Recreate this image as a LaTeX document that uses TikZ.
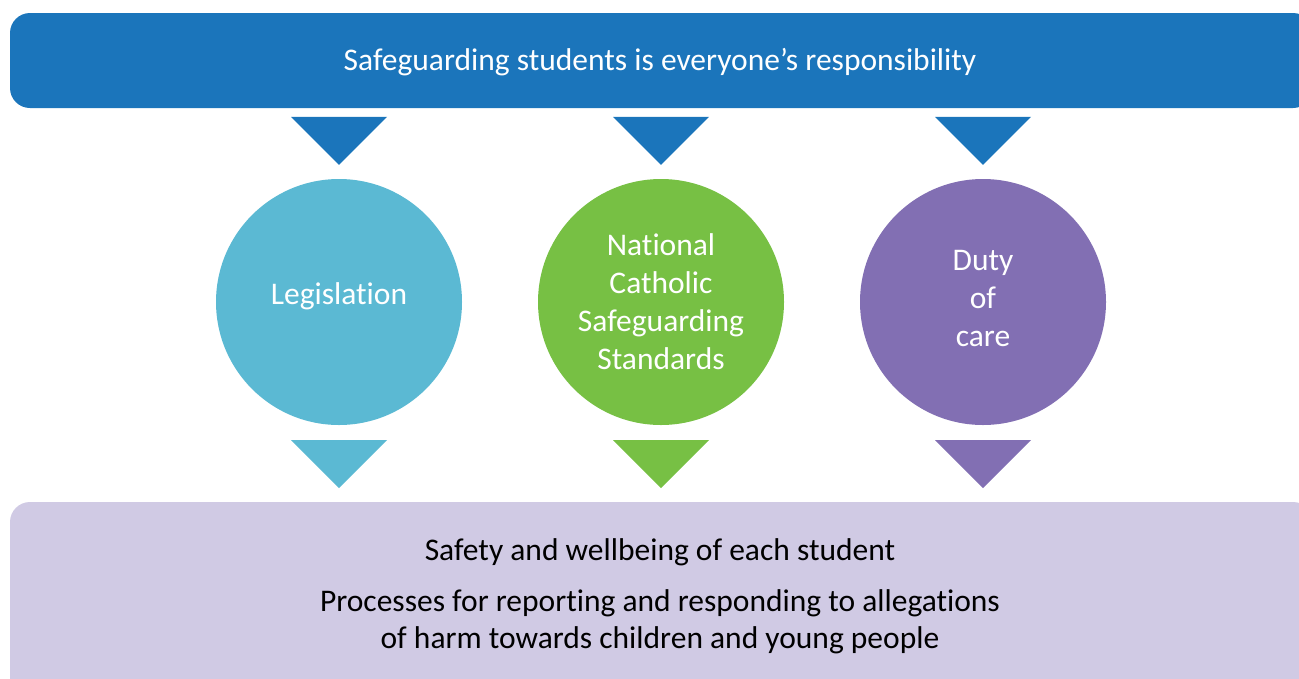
\documentclass[tikz,border=0pt]{standalone}
\usepackage{fontspec}
\setmainfont{Carlito}[Ligatures=NoCommon]
\usetikzlibrary{positioning}
\usetikzlibrary{calc}
\definecolor{sgblue}{HTML}{1B75BB}
\definecolor{sglight}{HTML}{5BB9D3}
\definecolor{sggreen}{HTML}{77C044}
\definecolor{sgpurple}{HTML}{826FB3}
\definecolor{sglilac}{HTML}{D0CAE4}
\tikzset{
  banner/.style = {rectangle, rounded corners=20pt, inner sep=0pt,
    minimum width=1303pt},% bandeau haut et bas
  pillar/.style = {circle, minimum size=246pt, inner sep=0pt, align=center,
    text=white, font=\fontsize{31.5}{38}\selectfont},% cercles du milieu
  sgtext/.style = {align=center, font=\fontsize{31.5}{37}\selectfont}
}
% triangle vers le bas : couleur, point du haut
\newcommand{\sgtri}[2]{\fill[#1] ($(#2)+(-48,0)$) -- ($(#2)+(48,0)$) -- ($(#2)+(0,48)$) -- cycle;}
% remonte le texte dans le cercle
\newcommand{\lift}[2]{\raisebox{0pt}[\height][\dimexpr\depth+#1\relax]{#2}}

\begin{document}
\begin{tikzpicture}[x=1pt,y=-1pt]
\useasboundingbox (0,0) rectangle (1299,678);
\clip (0,0) rectangle (1299,678);

\node [banner, fill=sgblue, minimum height=95pt] (top) at (661.5,60.5) {};
\node [text=white, font=\fontsize{31.5}{38}\selectfont] (toptext) at (660,62)
  {Safeguarding students is everyone’s responsibility};
\node [banner, fill=sglilac, minimum height=220pt] (bot) at (661.5,612) {};

\node [pillar, fill=sglight]  (leg) at (339,302) {\lift{12pt}{Legislation}};
\node [pillar, fill=sggreen]  (ncs) at (661,302) {National\\Catholic\\Safeguarding\\Standards};
\node [pillar, fill=sgpurple] (doc) at (983,302) {Duty\\of\\\lift{6pt}{care}};

\coordinate (tl) at ([yshift=62pt]leg.north);
\coordinate (tn) at ([yshift=62pt]ncs.north);
\coordinate (td) at ([yshift=62pt]doc.north);
\coordinate (bl) at ([yshift=-15pt]leg.south);
\coordinate (bn) at ([yshift=-15pt]ncs.south);
\coordinate (bd) at ([yshift=-15pt]doc.south);

\sgtri{sgblue}{tl}
\sgtri{sgblue}{tn}
\sgtri{sgblue}{td}
\sgtri{sglight}{bl}
\sgtri{sggreen}{bn}
\sgtri{sgpurple}{bd}

\node [sgtext] (safe) at (660,552) {Safety and wellbeing of each student};
\node [sgtext] (proc) at (660,621.5) {Processes for reporting and responding to allegations\\of harm towards children and young people};
\end{tikzpicture}
\end{document}
